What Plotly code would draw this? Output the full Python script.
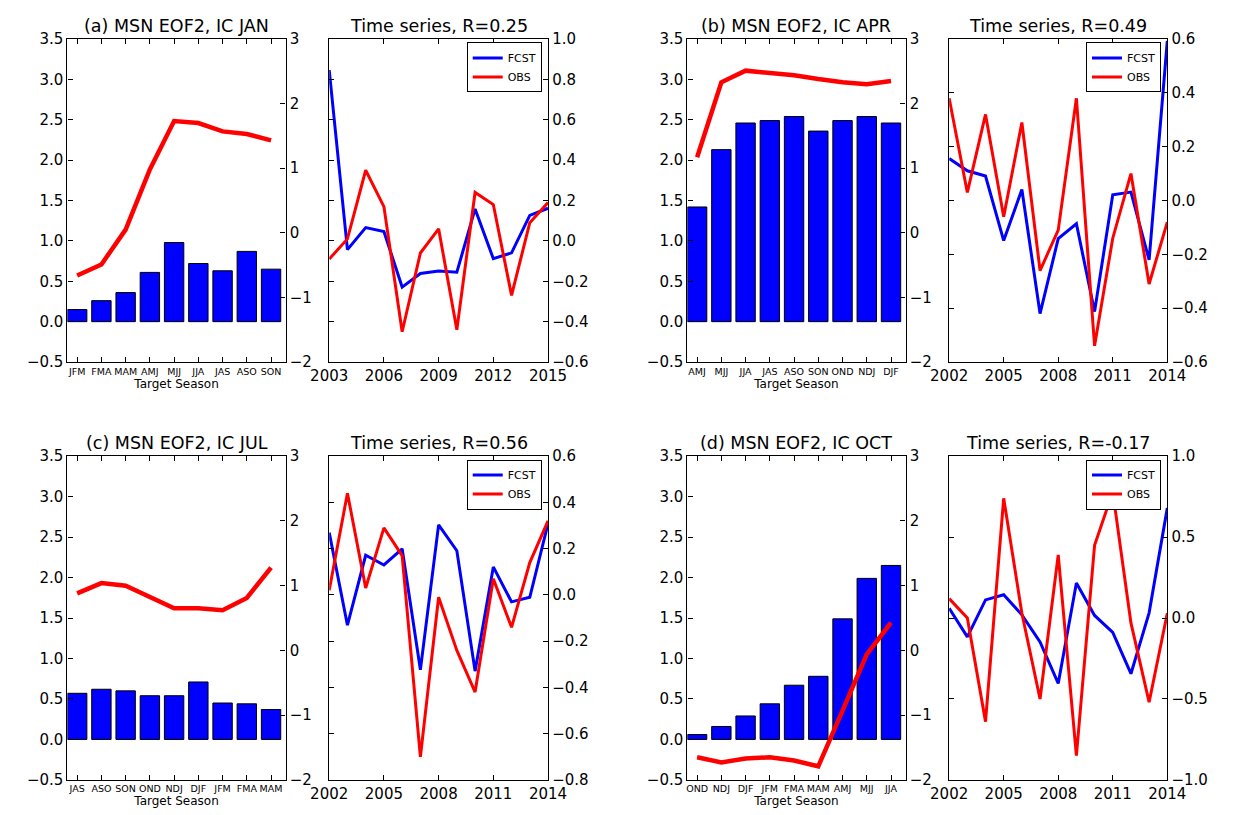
import plotly.graph_objects as go

# ---- data -------------------------------------------------------------
seasons_a = ["JFM", "FMA", "MAM", "AMJ", "MJJ", "JJA", "JAS", "ASO", "SON"]
bars_a = [0.15, 0.26, 0.36, 0.61, 0.98, 0.72, 0.63, 0.87, 0.65]
curve_a = [-0.66, -0.49, 0.05, 0.98, 1.73, 1.70, 1.57, 1.53, 1.43]
years_a = list(range(2003, 2016))
fcst_a = [2.52, -0.26, 0.08, 0.02, -0.84, -0.63, -0.59, -0.61, 0.37, -0.40, -0.31, 0.27, 0.38]
obs_a = [-0.09, 0.01, 0.35, 0.17, -0.45, -0.06, 0.06, -0.44, 0.24, 0.18, -0.27, 0.09, 0.19]

seasons_b = ["AMJ", "MJJ", "JJA", "JAS", "ASO", "SON", "OND", "NDJ", "DJF"]
bars_b = [1.42, 2.13, 2.46, 2.49, 2.54, 2.36, 2.49, 2.54, 2.46]
curve_b = [1.17, 2.33, 2.51, 2.48, 2.44, 2.38, 2.33, 2.30, 2.35]
years_b = list(range(2002, 2015))
fcst_b = [1.15, 0.96, 0.88, -0.12, 0.67, -1.25, -0.09, 0.14, -1.22, 0.59, 0.63, -0.42, 2.97]
obs_b = [0.38, 0.03, 0.32, -0.06, 0.29, -0.26, -0.11, 0.38, -0.54, -0.14, 0.10, -0.31, -0.08]

seasons_c = ["JAS", "ASO", "SON", "OND", "NDJ", "DJF", "JFM", "FMA", "MAM"]
bars_c = [0.57, 0.62, 0.60, 0.54, 0.54, 0.71, 0.45, 0.44, 0.37]
curve_c = [0.88, 1.04, 1.00, 0.82, 0.65, 0.65, 0.62, 0.81, 1.28]
years_c = list(range(2002, 2015))
fcst_c = [1.82, 0.39, 1.47, 1.32, 1.57, -0.30, 1.94, 1.54, -0.32, 1.29, 0.75, 0.82, 1.96]
obs_c = [0.02, 0.44, 0.03, 0.29, 0.17, -0.70, -0.01, -0.24, -0.42, 0.07, -0.14, 0.14, 0.32]

seasons_d = ["OND", "NDJ", "DJF", "JFM", "FMA", "MAM", "AMJ", "MJJ", "JJA"]
bars_d = [0.06, 0.16, 0.29, 0.44, 0.67, 0.78, 1.49, 1.99, 2.15]
curve_d = [-1.65, -1.73, -1.67, -1.65, -1.70, -1.79, -0.93, -0.06, 0.43]
years_d = list(range(2002, 2015))
fcst_d = [0.65, 0.21, 0.78, 0.86, 0.55, 0.13, -0.51, 1.04, 0.54, 0.28, -0.36, 0.58, 2.20]
obs_d = [0.12, 0.00, -0.64, 0.74, 0.03, -0.50, 0.39, -0.85, 0.45, 0.78, -0.03, -0.52, 0.03]

titles_left = ["(a) MSN EOF2, IC JAN", "(b) MSN EOF2, IC APR",
               "(c) MSN EOF2, IC JUL", "(d) MSN EOF2, IC OCT"]
titles_right = ["Time series, R=0.25", "Time series, R=0.49",
                "Time series, R=0.56", "Time series, R=-0.17"]
obs_ranges = [(-0.6, 1.0, 0.2), (-0.6, 0.6, 0.2), (-0.8, 0.6, 0.2), (-1.0, 1.0, 0.5)]

panels = [
    (seasons_a, bars_a, curve_a, years_a, fcst_a, obs_a),
    (seasons_b, bars_b, curve_b, years_b, fcst_b, obs_b),
    (seasons_c, bars_c, curve_c, years_c, fcst_c, obs_c),
    (seasons_d, bars_d, curve_d, years_d, fcst_d, obs_d),
]

# ---- layout geometry (pixels) -----------------------------------------
W, H = 1243, 815
FONT = "DejaVu Sans"
col_x = [((50, 275), (320, 545.7)), ((689.5, 914.5), (959.5, 1184.5))]
row_y = [(30.7, 361.0), (457.3, 788.3)]


def xdom(px):
    return [px[0] / W, px[1] / W]


def ydom(py):
    return [1 - py[1] / H, 1 - py[0] / H]


fig = go.Figure()
layout = dict(
    width=W, height=H, margin=dict(l=0, r=0, t=0, b=0),
    paper_bgcolor="white", plot_bgcolor="white",
    font=dict(family=FONT, color="black"),
    showlegend=True, annotations=[],
)

axis_common = dict(showgrid=False, zeroline=False, ticks="inside", ticklen=5,
                   tickwidth=1, tickcolor="black", linecolor="black", linewidth=1.3,
                   showline=True, tickfont=dict(family=FONT, size=15, color="black"))

for k, (seasons, bars, curve, years, fcst, obs) in enumerate(panels):
    row, col = divmod(k, 2)
    bx, tx = col_x[col]
    yd = ydom(row_y[row])
    xb, xt = 2 * k + 1, 2 * k + 2
    yl, yr, yf, yo = 4 * k + 1, 4 * k + 2, 4 * k + 3, 4 * k + 4
    nm = lambda p, i: p if i == 1 else f"{p}{i}"
    leg = "legend" if k == 0 else f"legend{k + 1}"

    # bar panel
    fig.add_trace(go.Bar(x=seasons, y=bars, width=0.8, xaxis=nm("x", xb), yaxis=nm("y", yl),
                         marker=dict(color="#0000ff", line=dict(color="black", width=1)),
                         showlegend=False))
    fig.add_trace(go.Scatter(x=seasons, y=curve, mode="lines", xaxis=nm("x", xb), yaxis=nm("y", yr),
                             line=dict(color="#ff0000", width=4.5), showlegend=False))

    layout[nm("xaxis", xb)] = dict(axis_common, domain=xdom(bx), anchor=nm("y", yl), type="category",
                                   categoryorder="array", categoryarray=seasons,
                                   range=[-0.4, 8.6], mirror="ticks",
                                   tickfont=dict(family=FONT, size=9.5, color="black"),
                                   title=dict(text="Target Season", standoff=0,
                                              font=dict(family=FONT, size=12, color="black")))
    layout[nm("yaxis", yl)] = dict(axis_common, domain=yd, anchor=nm("x", xb), range=[-0.5, 3.5],
                                   dtick=0.5, tick0=0, tickformat=".1f", mirror=True)
    layout[nm("yaxis", yr)] = dict(axis_common, overlaying=nm("y", yl), anchor=nm("x", xb),
                                   side="right", range=[-2, 3], dtick=1, tick0=0)

    # time-series panel
    fig.add_trace(go.Scatter(x=years, y=fcst, mode="lines", name="FCST", legend=leg,
                             xaxis=nm("x", xt), yaxis=nm("y", yf),
                             line=dict(color="#0000ff", width=3)))
    fig.add_trace(go.Scatter(x=years, y=obs, mode="lines", name="OBS", legend=leg,
                             xaxis=nm("x", xt), yaxis=nm("y", yo),
                             line=dict(color="#ff0000", width=3)))

    lo, hi, step = obs_ranges[k]
    layout[nm("xaxis", xt)] = dict(axis_common, domain=xdom(tx), anchor=nm("y", yf),
                                   range=[years[0], years[-1]], tick0=years[0], dtick=3,
                                   mirror="ticks")
    layout[nm("yaxis", yf)] = dict(axis_common, domain=yd, anchor=nm("x", xt), range=[-2, 3],
                                   showticklabels=False, ticks="", mirror=False)
    layout[nm("yaxis", yo)] = dict(axis_common, overlaying=nm("y", yf), anchor=nm("x", xt),
                                   side="right", range=[lo, hi], dtick=step, tick0=0,
                                   tickformat=".1f", mirror="ticks")

    layout[leg] = dict(x=(tx[1] - 6.5) / W, y=1 - (row_y[row][0] + 3.5) / H,
                       xanchor="right", yanchor="top", bgcolor="white",
                       bordercolor="black", borderwidth=1, itemwidth=30,
                       font=dict(family=FONT, size=11, color="black"), tracegroupgap=0)

    for px, text in ((bx, titles_left[k]), (tx, titles_right[k])):
        layout["annotations"].append(dict(
            x=(px[0] + px[1]) / 2 / W, y=yd[1], xref="paper", yref="paper",
            xanchor="center", yanchor="bottom", yshift=1, showarrow=False, text=text,
            font=dict(family=FONT, size=17.5, color="black")))

fig.update_layout(**layout)
fig.write_html("out.html")
